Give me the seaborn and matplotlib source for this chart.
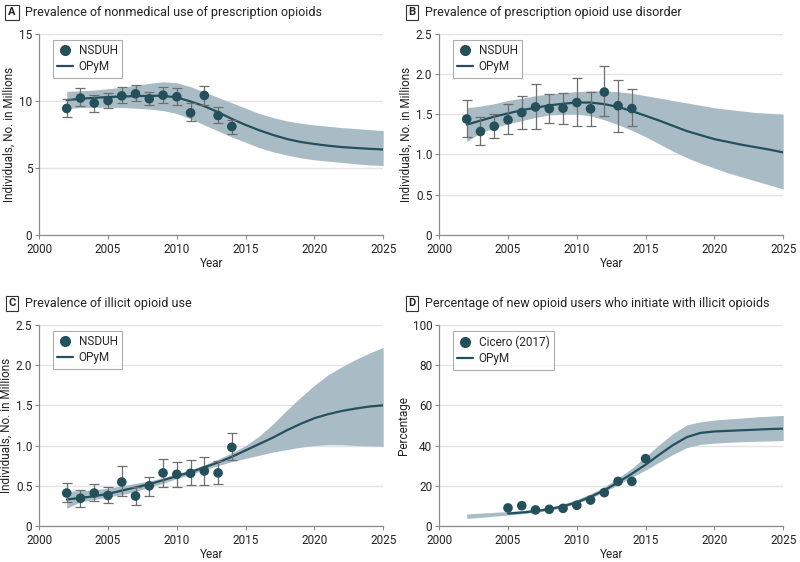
import matplotlib
matplotlib.use("Agg")
import matplotlib.pyplot as plt
import numpy as np
import pandas as pd
import seaborn as sns
from matplotlib.lines import Line2D

# ── Style ─────────────────────────────────────────────────────────────────────
sns.set_theme(style="white")
plt.rcParams["font.family"] = ["Roboto", "DejaVu Sans"]
TEAL = "#24505c"
BAND = "#a9bcc6"
ERR = "#6e6e6e"
SPINE = "#8c8c8c"
TXT = "#222222"

# ── Data: survey points ───────────────────────────────────────────────────────
svy_years = list(range(2002, 2015))

a_pts = [9.43, 10.2, 9.83, 10.02, 10.37, 10.52, 10.15, 10.42, 10.3, 9.1, 10.4, 8.9, 8.08]
a_lo = [8.8, 9.6, 9.2, 9.45, 9.8, 9.95, 9.65, 9.85, 9.65, 8.5, 9.68, 8.33, 7.56]
a_hi = [10.1, 10.92, 10.42, 10.6, 11.0, 11.2, 10.65, 11.05, 10.95, 9.8, 11.1, 9.53, 8.6]

b_pts = [1.44, 1.285, 1.35, 1.43, 1.52, 1.59, 1.57, 1.575, 1.645, 1.567, 1.775, 1.605, 1.57]
b_lo = [1.22, 1.115, 1.2, 1.25, 1.31, 1.32, 1.39, 1.38, 1.35, 1.35, 1.475, 1.285, 1.355]
b_hi = [1.675, 1.47, 1.5, 1.625, 1.72, 1.88, 1.745, 1.76, 1.95, 1.775, 2.1, 1.925, 1.81]

c_pts = [0.41, 0.345, 0.41, 0.38, 0.547, 0.373, 0.5, 0.66, 0.643, 0.655, 0.684, 0.66, 0.978]
c_lo = [0.30, 0.235, 0.31, 0.29, 0.37, 0.26, 0.377, 0.49, 0.49, 0.51, 0.514, 0.527, 0.82]
c_hi = [0.53, 0.445, 0.52, 0.48, 0.74, 0.48, 0.605, 0.83, 0.79, 0.82, 0.862, 0.81, 1.15]

d_years = list(range(2005, 2016))
d_pts = [9.0, 10.1, 8.0, 8.3, 8.8, 10.3, 12.9, 16.6, 22.2, 22.2, 33.5]

# ── Data: OPyM model (median and band) ───────────────────────────────────────
model_years = list(range(2002, 2026))

a_mid = [10.05, 10.15, 10.22, 10.28, 10.32, 10.35, 10.37, 10.37, 10.25, 9.95, 9.6, 9.15,
         8.65, 8.2, 7.8, 7.45, 7.15, 6.93, 6.78, 6.65, 6.55, 6.48, 6.42, 6.37]
a_up = [10.7, 10.75, 10.8, 10.9, 11.0, 11.15, 11.3, 11.42, 11.35, 11.05, 10.65, 10.25,
        9.85, 9.45, 9.05, 8.75, 8.5, 8.33, 8.2, 8.1, 8.0, 7.93, 7.85, 7.78]
a_dn = [9.42, 9.5, 9.52, 9.52, 9.5, 9.45, 9.38, 9.27, 9.05, 8.65, 8.2, 7.75,
        7.3, 6.9, 6.5, 6.2, 5.95, 5.75, 5.6, 5.5, 5.4, 5.3, 5.22, 5.17]

b_mid = [1.37, 1.42, 1.47, 1.51, 1.55, 1.58, 1.61, 1.63, 1.645, 1.645, 1.625, 1.59,
         1.54, 1.48, 1.42, 1.355, 1.29, 1.24, 1.19, 1.155, 1.12, 1.09, 1.06, 1.025]
b_up = [1.58, 1.6, 1.63, 1.67, 1.7, 1.73, 1.75, 1.77, 1.78, 1.79, 1.79, 1.78,
        1.76, 1.73, 1.7, 1.67, 1.64, 1.61, 1.58, 1.56, 1.54, 1.52, 1.51, 1.5]
b_dn = [1.16, 1.27, 1.33, 1.38, 1.42, 1.46, 1.49, 1.5, 1.5, 1.48, 1.43, 1.37,
        1.3, 1.22, 1.13, 1.04, 0.96, 0.89, 0.83, 0.77, 0.72, 0.67, 0.62, 0.57]

c_mid = [0.33, 0.35, 0.37, 0.40, 0.44, 0.48, 0.52, 0.57, 0.62, 0.67, 0.73, 0.79,
         0.86, 0.94, 1.02, 1.1, 1.19, 1.27, 1.34, 1.39, 1.43, 1.46, 1.485, 1.5]
c_up = [0.43, 0.44, 0.45, 0.47, 0.5, 0.53, 0.56, 0.6, 0.65, 0.7, 0.76, 0.83,
        0.91, 1.0, 1.12, 1.27, 1.44, 1.6, 1.75, 1.88, 1.98, 2.07, 2.15, 2.22]
c_dn = [0.22, 0.30, 0.33, 0.36, 0.39, 0.43, 0.48, 0.53, 0.59, 0.64, 0.7, 0.75,
        0.80, 0.84, 0.88, 0.92, 0.95, 0.98, 1.0, 1.01, 1.01, 1.0, 0.995, 0.99]

d_line_years = list(range(2005, 2026))
d_mid = [6.2, 6.7, 7.4, 8.4, 9.8, 11.8, 14.5, 17.8, 21.7, 26.0, 30.5, 35.5, 40.3,
         44.2, 46.3, 47.0, 47.3, 47.6, 47.9, 48.2, 48.4]
d_up = [6.0, 6.4, 6.8, 7.2, 7.7, 8.4, 9.4, 11.0, 13.2, 16.0, 19.5, 23.8,
        28.7, 34.5, 40.5, 46.0, 50.3, 51.8, 52.7, 53.2, 53.7, 54.2, 54.6, 55.0]
d_dn = [3.8, 4.3, 4.9, 5.5, 6.1, 6.8, 7.8, 9.2, 11.2, 13.8, 17.0, 20.5,
        24.3, 27.8, 31.8, 35.6, 39.0, 40.6, 41.2, 41.6, 41.9, 42.1, 42.3, 42.5]

PANELS = [
    dict(letter="A", title="Prevalence of nonmedical use of prescription opioids",
         ylim=(0, 15), yticks=[0, 5, 10, 15], yfmt="{:.0f}", src="NSDUH",
         px=svy_years, pts=a_pts, lo=a_lo, hi=a_hi,
         lx=model_years, mid=a_mid, up=a_up, dn=a_dn,
         ylabel="Individuals, No. in Millions", pos=[0.049, 0.582, 0.430, 0.358]),
    dict(letter="B", title="Prevalence of prescription opioid use disorder",
         ylim=(0, 2.5), yticks=[0, 0.5, 1.0, 1.5, 2.0, 2.5], yfmt="{:.1f}", src="NSDUH",
         px=svy_years, pts=b_pts, lo=b_lo, hi=b_hi,
         lx=model_years, mid=b_mid, up=b_up, dn=b_dn,
         ylabel="Individuals, No. in Millions", pos=[0.549, 0.582, 0.430, 0.358]),
    dict(letter="C", title="Prevalence of illicit opioid use",
         ylim=(0, 2.5), yticks=[0, 0.5, 1.0, 1.5, 2.0, 2.5], yfmt="{:.1f}", src="NSDUH",
         px=svy_years, pts=c_pts, lo=c_lo, hi=c_hi,
         lx=model_years, mid=c_mid, up=c_up, dn=c_dn,
         ylabel="Individuals, No. in Millions", pos=[0.049, 0.064, 0.430, 0.358]),
    dict(letter="D", title="Percentage of new opioid users who initiate with illicit opioids",
         ylim=(0, 100), yticks=[0, 20, 40, 60, 80, 100], yfmt="{:.0f}", src="Cicero (2017)",
         px=d_years, pts=d_pts, lo=None, hi=None,
         lx=d_line_years, mid=d_mid, up=d_up, dn=d_dn,
         ylabel="Percentage", pos=[0.549, 0.064, 0.430, 0.358]),
]

fig = plt.figure(figsize=(8, 5.62), dpi=100)

for p in PANELS:
    ax = fig.add_axes(p["pos"])
    ax.fill_between(model_years, p["dn"], p["up"], color=BAND, lw=0, zorder=1)
    line_df = pd.DataFrame({"year": p["lx"], "value": p["mid"]})
    sns.lineplot(data=line_df, x="year", y="value", color=TEAL, lw=1.6, ax=ax, zorder=3)
    if p["lo"] is not None:
        pts = np.array(p["pts"])
        yerr = [pts - np.array(p["lo"]), np.array(p["hi"]) - pts]
        ax.errorbar(p["px"], pts, yerr=yerr, fmt="none", ecolor=ERR, elinewidth=0.9,
                    capsize=3.5, capthick=0.9, zorder=4)
    pt_df = pd.DataFrame({"year": p["px"], "value": p["pts"]})
    sns.scatterplot(data=pt_df, x="year", y="value", color=TEAL, s=48, edgecolor="none",
                    ax=ax, zorder=5)

    ax.set_xlim(2000, 2025)
    ax.set_ylim(*p["ylim"])
    ax.set_xticks([2000, 2005, 2010, 2015, 2020, 2025])
    ax.set_yticks(p["yticks"])
    ax.set_yticklabels([p["yfmt"].format(v) if v != 0 else "0" for v in p["yticks"]])
    ax.yaxis.grid(True, color="#e3e3e3", lw=1.0, zorder=0)
    ax.set_axisbelow(True)
    for side in ["top", "right"]:
        ax.spines[side].set_visible(False)
    for side in ["left", "bottom"]:
        ax.spines[side].set_color(SPINE)
        ax.spines[side].set_linewidth(0.9)
    ax.tick_params(axis="both", which="major", length=3, width=0.8, color=SPINE,
                   labelsize=8.5, labelcolor=TXT, bottom=True, left=True)
    ax.tick_params(axis="x", pad=2.5)
    ax.tick_params(axis="y", pad=2)
    ax.set_xlabel("Year", fontsize=8.5, color=TXT, labelpad=1)
    ax.set_ylabel(p["ylabel"], fontsize=8.5, color=TXT, labelpad=2)

    handles = [
        Line2D([], [], marker="o", color=TEAL, lw=0, markersize=7),
        Line2D([], [], color=TEAL, lw=1.6),
    ]
    leg = ax.legend(handles, [p["src"], "OPyM"], loc="upper left",
                    bbox_to_anchor=(0.022, 1.0), fontsize=8.5, frameon=True,
                    fancybox=False, borderpad=0.4, labelspacing=0.25,
                    handlelength=1.3, handletextpad=0.5)
    leg.get_frame().set_edgecolor("#9a9a9a")
    leg.get_frame().set_linewidth(0.8)

    # panel letter + title above the axes
    x0 = p["pos"][0] - 0.034
    y0 = p["pos"][1] + p["pos"][3] + 0.038
    fig.text(x0, y0, p["letter"], fontsize=8, fontweight="bold", color=TXT,
             va="center", ha="center",
             bbox=dict(boxstyle="square,pad=0.25", fc="white", ec="#333333", lw=0.8))
    fig.text(x0 + 0.016, y0, p["title"], fontsize=9, color=TXT, va="center",
             ha="left")

fig.savefig("out.png", dpi=100)
plt.close()
print("Saved out.png")
